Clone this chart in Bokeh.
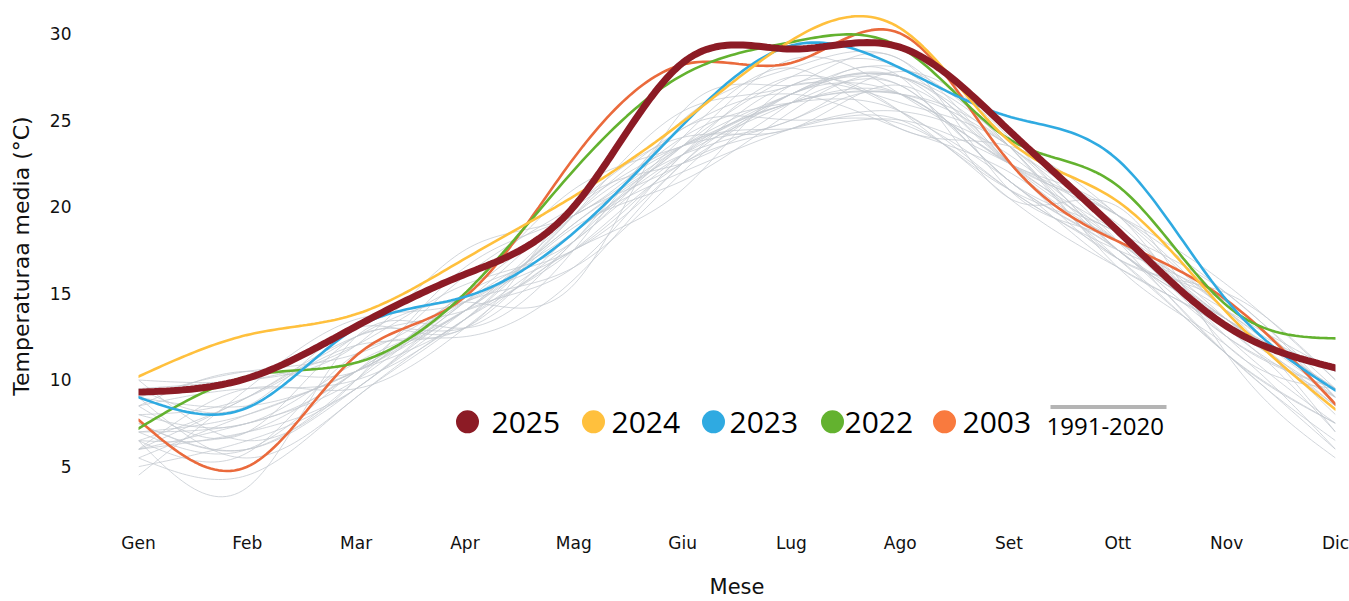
import numpy as np
from bokeh.plotting import figure
from bokeh.models import Range1d, FixedTicker
from bokeh.core.properties import value
from bokeh.embed import file_html
from bokeh.resources import INLINE

# ---------------- data ----------------
months = ["Gen", "Feb", "Mar", "Apr", "Mag", "Giu", "Lug", "Ago", "Set", "Ott", "Nov", "Dic"]
month_idx = list(range(1, 13))

t2025 = [9.3, 10.1, 13.1, 16.1, 20.0, 28.3, 29.1, 29.2, 24.4, 18.6, 13.1, 10.7]
t2024 = [10.2, 12.6, 13.8, 17.0, 20.6, 24.9, 29.6, 30.3, 23.8, 20.3, 13.9, 8.3]
t2023 = [9.0, 8.4, 13.0, 14.8, 18.5, 24.7, 29.3, 28.0, 25.2, 22.7, 14.6, 9.4]
t2022 = [7.2, 10.2, 11.0, 15.0, 22.1, 27.6, 29.5, 29.2, 23.9, 21.2, 14.3, 12.4]
t2003 = [7.7, 5.0, 11.4, 14.8, 22.8, 28.2, 28.3, 30.0, 22.6, 18.0, 14.6, 8.6]

highlight_years = ["2025", "2024", "2023", "2022", "2003"]
highlight_values = [t2025, t2024, t2023, t2022, t2003]

ref_1991 = [6.5, 5.8, 11.5, 12.5, 15.8, 22.5, 26.0, 26.5, 23.5, 16.5, 12.0, 6.0]
ref_1992 = [7.0, 8.0, 10.5, 13.5, 18.8, 21.5, 25.5, 27.5, 22.5, 17.0, 14.5, 8.5]
ref_1993 = [7.5, 6.0, 9.5, 14.0, 19.0, 23.0, 25.0, 26.5, 21.5, 17.5, 12.5, 9.5]
ref_1994 = [8.5, 7.0, 12.5, 13.0, 18.0, 23.5, 27.5, 28.0, 22.5, 18.5, 15.0, 9.0]
ref_1995 = [6.0, 9.5, 9.5, 13.0, 17.5, 21.0, 27.0, 25.5, 21.0, 18.0, 12.5, 9.5]
ref_1996 = [9.0, 5.5, 9.0, 13.5, 17.5, 22.5, 24.5, 25.0, 20.5, 16.5, 13.0, 9.0]
ref_1997 = [8.0, 9.0, 12.0, 13.0, 18.5, 22.0, 24.5, 25.5, 23.0, 18.0, 13.5, 8.5]
ref_1998 = [8.5, 9.5, 10.0, 13.5, 18.0, 23.0, 26.5, 27.0, 21.5, 17.5, 11.5, 6.5]
ref_1999 = [7.0, 6.0, 10.5, 14.0, 19.5, 23.5, 26.0, 26.5, 23.5, 18.0, 11.5, 7.5]
ref_2000 = [5.5, 8.0, 10.5, 14.5, 20.0, 24.0, 24.5, 27.0, 22.5, 18.5, 13.5, 10.5]
ref_2001 = [9.5, 8.5, 13.0, 13.0, 20.0, 22.5, 26.0, 27.5, 20.5, 20.0, 11.5, 5.5]
ref_2002 = [6.5, 9.0, 12.5, 14.0, 18.0, 24.5, 25.0, 24.8, 21.0, 17.5, 14.5, 9.0]
ref_2004 = [6.0, 7.0, 9.5, 14.0, 16.5, 23.0, 26.0, 26.5, 22.5, 19.5, 12.0, 9.5]
ref_2005 = [5.5, 4.5, 9.0, 13.5, 19.5, 24.5, 26.5, 24.5, 22.0, 17.0, 11.5, 6.0]
ref_2006 = [5.0, 6.5, 9.5, 14.5, 18.5, 24.0, 28.0, 24.5, 23.5, 19.5, 14.0, 9.5]
ref_2007 = [9.5, 10.0, 12.0, 17.5, 19.5, 24.0, 26.0, 25.5, 21.0, 17.0, 11.5, 7.5]
ref_2008 = [9.0, 8.5, 10.5, 14.0, 18.5, 23.0, 26.0, 27.0, 21.5, 18.5, 13.5, 8.5]
ref_2009 = [6.5, 7.0, 10.5, 15.0, 21.0, 23.5, 26.5, 28.0, 23.5, 17.5, 13.5, 8.0]
ref_2010 = [6.0, 7.5, 10.0, 14.5, 17.5, 23.0, 27.5, 25.5, 21.5, 16.5, 13.0, 7.0]
ref_2011 = [7.0, 7.5, 10.5, 16.0, 20.0, 23.5, 25.0, 27.8, 24.0, 17.5, 13.5, 9.5]
ref_2012 = [6.5, 3.8, 12.5, 13.0, 17.5, 25.0, 28.0, 28.5, 22.5, 18.0, 14.0, 7.0]
ref_2013 = [7.5, 6.0, 10.0, 14.5, 16.5, 22.0, 26.5, 26.5, 22.5, 19.0, 13.0, 9.0]
ref_2014 = [10.0, 10.0, 12.0, 15.5, 18.0, 23.5, 24.5, 25.0, 22.5, 19.5, 15.5, 10.0]
ref_2015 = [8.0, 7.5, 11.0, 14.0, 19.0, 23.5, 28.5, 26.5, 22.5, 18.0, 14.0, 10.5]
ref_2016 = [8.5, 10.5, 10.5, 15.0, 17.5, 22.5, 27.0, 26.0, 23.5, 17.5, 13.5, 9.0]
ref_2017 = [4.5, 9.5, 13.5, 14.5, 19.5, 25.5, 27.0, 28.5, 21.0, 18.0, 12.5, 7.5]
ref_2018 = [10.0, 6.5, 10.0, 16.5, 19.5, 23.5, 26.5, 27.5, 23.5, 19.5, 15.0, 9.5]
ref_2019 = [6.0, 9.0, 12.5, 14.5, 15.5, 25.5, 27.0, 27.5, 22.5, 19.5, 14.0, 10.5]
ref_2020 = [9.0, 10.5, 11.5, 15.0, 19.5, 22.5, 26.5, 27.5, 23.5, 17.0, 15.0, 10.0]

ref_values = [ref_1991, ref_1992, ref_1993, ref_1994, ref_1995, ref_1996, ref_1997, ref_1998,
              ref_1999, ref_2000, ref_2001, ref_2002, ref_2004, ref_2005, ref_2006, ref_2007,
              ref_2008, ref_2009, ref_2010, ref_2011, ref_2012, ref_2013, ref_2014, ref_2015,
              ref_2016, ref_2017, ref_2018, ref_2019, ref_2020]

ref_label = "1991-2020"
y_ticks = [5, 10, 15, 20, 25, 30]

# ---------------- styles ----------------
highlight_colors = ["#8C1B25", "#FFC03D", "#2FAAE1", "#63B22F", "#EA6A3C"]
legend_dot_colors = ["#8C1B25", "#FFC03D", "#2FAAE1", "#63B22F", "#F97A3E"]
highlight_widths = [7, 2.6, 2.6, 2.6, 2.6]
gray = "#C3C8CF"


def smooth(xs, ys, n=300):
    """natural cubic spline through the monthly points, for drawing only"""
    xs = np.asarray(xs, float)
    ys = np.asarray(ys, float)
    k = len(xs)
    h = np.diff(xs)
    A = np.zeros((k, k))
    r = np.zeros(k)
    A[0, 0] = 1
    A[-1, -1] = 1
    for i in range(1, k - 1):
        A[i, i - 1] = h[i - 1]
        A[i, i] = 2 * (h[i - 1] + h[i])
        A[i, i + 1] = h[i]
        r[i] = 6 * ((ys[i + 1] - ys[i]) / h[i] - (ys[i] - ys[i - 1]) / h[i - 1])
    M = np.linalg.solve(A, r)
    xd = np.linspace(xs[0], xs[-1], n)
    idx = np.clip(np.searchsorted(xs, xd) - 1, 0, k - 2)
    x0, x1 = xs[idx], xs[idx + 1]
    hh = x1 - x0
    a = (x1 - xd) / hh
    b = (xd - x0) / hh
    yd = (a * ys[idx] + b * ys[idx + 1]
          + ((a ** 3 - a) * M[idx] + (b ** 3 - b) * M[idx + 1]) * hh ** 2 / 6)
    return xd, yd


# ---------------- geometry ----------------
W, H = 1349, 601
ML, MR, MT, MB = 138, 14, 10, 98
FW, FH = W - ML - MR, H - MT - MB
px_per_deg = 17.4
y_top = 30 + (33 - MT) / px_per_deg
y_bot = y_top - FH / px_per_deg

p = figure(width=W, height=H, x_range=Range1d(1, 12), y_range=Range1d(y_bot, y_top),
           output_backend="svg", toolbar_location=None,
           min_border_left=ML, min_border_right=MR, min_border_top=MT, min_border_bottom=MB)
p.outline_line_color = None
p.grid.visible = False
p.background_fill_color = "white"
p.border_fill_color = "white"

# reference years
for vals in ref_values:
    xd, yd = smooth(month_idx, vals)
    p.line(xd, yd, line_color=gray, line_width=1, line_alpha=0.75)

# highlighted years, drawn 2003 first, 2025 last
for yr, vals, col, lw in reversed(list(zip(highlight_years, highlight_values, highlight_colors, highlight_widths))):
    xd, yd = smooth(month_idx, vals)
    p.line(xd, yd, line_color=col, line_width=lw, line_cap="round")

# axes
p.xaxis.ticker = FixedTicker(ticks=month_idx)
p.xaxis.major_label_overrides = {i: m for i, m in zip(month_idx, months)}
p.yaxis.ticker = FixedTicker(ticks=y_ticks)
for ax in (p.xaxis[0], p.yaxis[0]):
    ax.axis_line_color = None
    ax.major_tick_line_color = None
    ax.minor_tick_line_color = None
    ax.major_label_text_font = "DejaVu Sans"
    ax.major_label_text_font_size = "17px"
    ax.major_label_text_color = "#111111"
    ax.axis_label_text_font = "DejaVu Sans"
    ax.axis_label_text_font_style = "normal"
    ax.axis_label_text_color = "#111111"
p.xaxis.axis_label_text_font_size = "21px"
p.yaxis.axis_label_text_font_size = "22px"
p.xaxis.axis_label = "Mese"
p.yaxis.axis_label = "Temperaturaa media (°C)"
p.xaxis.major_label_standoff = 25
p.xaxis.axis_label_standoff = 19
p.yaxis.major_label_standoff = 61
p.yaxis.axis_label_standoff = 13
p.yaxis.major_label_orientation = "horizontal"


# ---------------- legend (positions in canvas pixels) ----------------
def dx(px):
    return 1 + (px - ML) / (FW / 11)


def dy(py):
    return y_top - (py - MT) / px_per_deg


dot_px = [467, 593, 713, 832, 944]
txt_px = [491, 611, 729, 844, 962]
leg_py = 423
p.scatter([dx(v) for v in dot_px], [dy(leg_py)] * 5, size=23, marker="circle",
          fill_color=legend_dot_colors, line_color=None)
p.text([dx(v) for v in txt_px], [dy(leg_py + 1)] * 5, text=highlight_years,
       text_font=value("Open Sans"), text_font_size="30px", text_baseline="middle",
       text_align="left", text_color="#000000")
p.line([dx(1050), dx(1166)], [dy(408), dy(408)], line_color="#B4B4B4", line_width=4)
p.text([dx(1046)], [dy(428)], text=[ref_label], text_font=value("Open Sans"),
       text_font_size="24px", text_baseline="middle", text_align="left", text_color="#000000")

open("out.html", "w").write(file_html(p, INLINE))
